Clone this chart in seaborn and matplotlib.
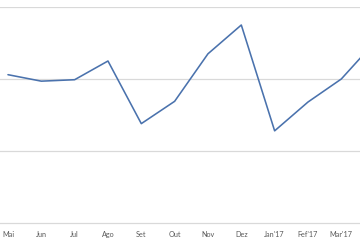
import matplotlib
matplotlib.use("Agg")
import matplotlib.pyplot as plt
import seaborn as sns
import pandas as pd
import numpy as np
from matplotlib.ticker import FixedLocator

months = ["Mai", "Jun", "Jul", "Ago", "Set", "Out", "Nov", "Dez", "Jan'17", "Fef'17", "Mar'17", ""]
values = [2.06, 1.97, 1.99, 2.25, 1.38, 1.69, 2.35, 2.75, 1.28, 1.68, 2.00, 2.51]
grid_values = [1, 2, 3]

sns.set_theme(style="white")
plt.rcParams['font.family'] = ['Lato', 'DejaVu Sans']

df = pd.DataFrame({"idx": np.arange(len(months)), "val": values})

fig = plt.figure(figsize=(3.6, 2.4), dpi=100)
ax = fig.add_axes([-8.7/360, 17/240, 400/360, 216/240])
sns.lineplot(data=df, x="idx", y="val", ax=ax, color="#4a72ad", linewidth=1.15)

ax.set_xlim(-0.5, len(months) - 0.5)
ax.set_ylim(0, 3)
ax.set_xticks(df["idx"])
ax.set_xticklabels(months, fontsize=5.2, color="#595959")
ax.xaxis.set_minor_locator(FixedLocator(np.arange(-0.5, len(months), 1.0)))
ax.tick_params(axis="x", which="major", length=0, pad=5.5)
ax.tick_params(axis="x", which="minor", length=3, color="#d9d9d9", width=0.8, direction="out")
ax.set_yticks([])
for g in grid_values:
    ax.axhline(g, color="#d9d9d9", linewidth=0.9, zorder=0)
for s in ["top", "left", "right"]:
    ax.spines[s].set_visible(False)
ax.spines["bottom"].set_color("#d9d9d9")
ax.spines["bottom"].set_linewidth(0.9)
ax.set_xlabel("")
ax.set_ylabel("")
fig.savefig("out.png", dpi=100)
